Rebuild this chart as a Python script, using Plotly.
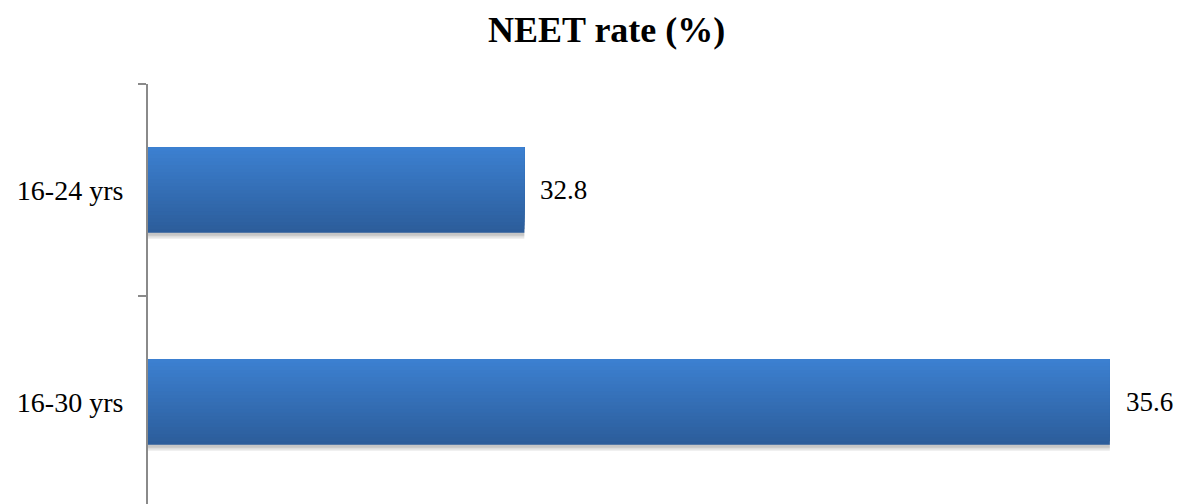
import plotly.graph_objects as go

categories = ["16-30 yrs", "16-24 yrs"]
values = [35.6, 32.8]
value_labels = ["35.6", "32.8"]
title_text = "NEET rate (%)"

FONT = "Liberation Serif"
top_rgb = (60, 128, 208)
bot_rgb = (44, 93, 155)
N = 24
bar_w = 0.403

fig = go.Figure()
# soft shadow under the bars
for s, a in [(0.03, 0.06), (0.022, 0.08), (0.014, 0.10)]:
    fig.add_trace(go.Bar(
        y=categories, x=values, orientation="h",
        width=bar_w, offset=-bar_w / 2 - s,
        marker=dict(color="rgba(0,0,0,%.2f)" % a, line=dict(width=0)),
        showlegend=False, hoverinfo="skip",
    ))
for k in range(N):
    t = k / (N - 1)
    c = tuple(round(b + (a - b) * t) for a, b in zip(top_rgb, bot_rgb))
    off = -bar_w / 2 + k * bar_w / N
    fig.add_trace(go.Bar(
        y=categories, x=values, orientation="h",
        width=bar_w / 2 - off, offset=off,
        marker=dict(color="rgb(%d,%d,%d)" % c, line=dict(width=0)),
        showlegend=False, hoverinfo="skip" if k else "x+y",
    ))

for cat, v, lab in zip(categories, values, value_labels):
    fig.add_annotation(x=v, y=cat, text=lab, showarrow=False,
                       xanchor="left", yanchor="middle", xshift=14,
                       font=dict(family=FONT, size=27, color="#000000"))

fig.update_layout(
    width=1178, height=504,
    margin=dict(l=148, r=0, t=84, b=0),
    paper_bgcolor="white", plot_bgcolor="white",
    barmode="overlay",
    title=dict(text="<b>" + title_text + "</b>", x=0.515, xref="container",
               xanchor="center", y=1 - 29 / 504, yref="container", yanchor="middle",
               font=dict(family=FONT, size=36, color="#000000")),
    xaxis=dict(range=[31, 35.926], showgrid=False, zeroline=False,
               showticklabels=False, showline=False, ticks=""),
    yaxis=dict(type="category", categoryorder="array", categoryarray=categories,
               range=[-0.481, 1.5], showgrid=False, zeroline=False,
               showline=True, linecolor="#8a8a8a", linewidth=2,
               ticks="outside", ticklen=8, tickwidth=2, tickcolor="#8a8a8a",
               tickson="boundaries", ticklabelstandoff=17,
               tickfont=dict(family=FONT, size=28, color="#000000")),
)

fig.write_html("out.html", config={"displayModeBar": False},
               post_script="document.body.style.margin='0px';document.body.style.overflow='hidden';")
